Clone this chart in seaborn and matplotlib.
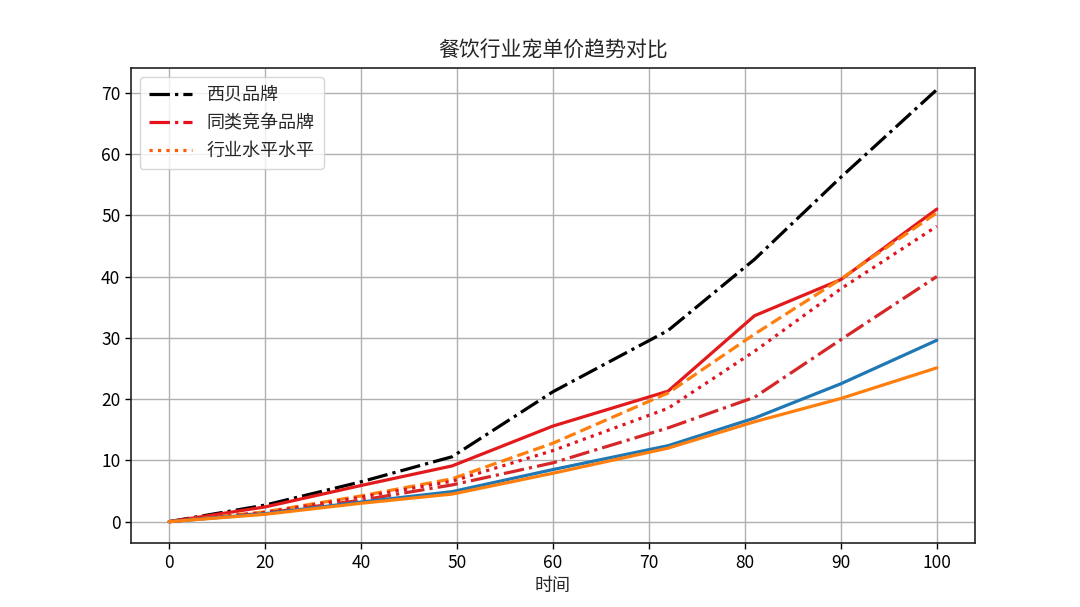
import numpy as np
import pandas as pd
import matplotlib
matplotlib.use('Agg')
import matplotlib.pyplot as plt
from matplotlib.lines import Line2D
import seaborn as sns

# Datos
tiempo = [0, 20, 40, 49.5, 60, 72, 81, 90, 100]
xticks_lbl = [0, 20, 40, 50, 60, 70, 80, 90, 100]

xibei = [0, 2.7, 6.5, 10.6, 21.2, 31.2, 42.8, 56.2, 70.5]
rojo_solido = [0, 2.4, 5.9, 9.1, 15.6, 21.3, 33.6, 39.5, 51.0]
naranja_guion = [0, 1.6, 4.2, 7.0, 12.8, 21.0, 30.6, 39.6, 50.4]
rojo_punteado = [0, 1.5, 4.0, 6.6, 11.6, 18.5, 27.8, 38.0, 48.2]
carmesi = [0, 1.4, 3.5, 6.0, 9.6, 15.3, 20.3, 29.7, 40.0]
azul = [0, 1.3, 3.2, 4.9, 8.5, 12.4, 16.9, 22.5, 29.6]
naranja = [0, 1.2, 3.0, 4.5, 7.9, 12.0, 16.3, 20.1, 25.1]

leyenda_labels = ['西贝品牌', '同类竞争品牌', '行业水平水平']

sns.set_style('white')
plt.rcParams['font.family'] = ['Noto Sans CJK SC', 'DejaVu Sans']
plt.rcParams['axes.unicode_minus'] = False

fig, ax = plt.subplots(figsize=(10.8, 6.07), dpi=100)
fig.subplots_adjust(left=0.121, right=0.903, top=0.888, bottom=0.105)

# Escala por tramos: las marcas del eje quedan equiespaciadas
src = [-200] + xticks_lbl + [200]
dst = [-10] + list(range(len(xticks_lbl))) + [18]
fwd = lambda v: np.interp(v, src, dst)
inv = lambda v: np.interp(v, dst, src)
ax.set_xscale('function', functions=(fwd, inv))

series = [
    (xibei, 'black', '-.'),
    (rojo_solido, '#e31a1c', '-'),
    (naranja_guion, '#ff7f0e', '--'),
    (rojo_punteado, '#e0141e', ':'),
    (carmesi, '#d62728', '-.'),
    (azul, '#1f77b4', '-'),
    (naranja, '#ff7f0e', '-'),
]
for vals, col, ls in series:
    df = pd.DataFrame({'t': tiempo, 'v': vals})
    sns.lineplot(data=df, x='t', y='v', ax=ax, color=col, linestyle=ls,
                 linewidth=2.3, legend=False)

ax.set_xticks(xticks_lbl)
ax.set_xticklabels([str(t) for t in xticks_lbl])
ax.set_yticks(range(0, 71, 10))
ax.tick_params(axis='both', labelsize=12.5, length=4, width=1, direction='out',
               bottom=True, left=True, colors='black')
ax.grid(True, color='#b0b0b0', linewidth=1)
for s in ax.spines.values():
    s.set_color('#222222')
    s.set_linewidth(1.2)

ax.set_title('餐饮行业宠单价趋势对比', fontsize=15, pad=8)
ax.set_xlabel('时间', fontsize=13, labelpad=4)
ax.set_ylabel('')

handles = [
    Line2D([], [], color='black', linestyle='-.', linewidth=2.3),
    Line2D([], [], color='#e8101c', linestyle='-.', linewidth=2.3),
    Line2D([], [], color='#ff5a00', linestyle=':', linewidth=2.3),
]
ax.legend(handles, leyenda_labels, loc='upper left', fontsize=13,
          handlelength=2.4, frameon=True, framealpha=0.8, edgecolor='#cccccc',
          borderpad=0.5, labelspacing=0.55)

plt.savefig('out.png', dpi=100)
